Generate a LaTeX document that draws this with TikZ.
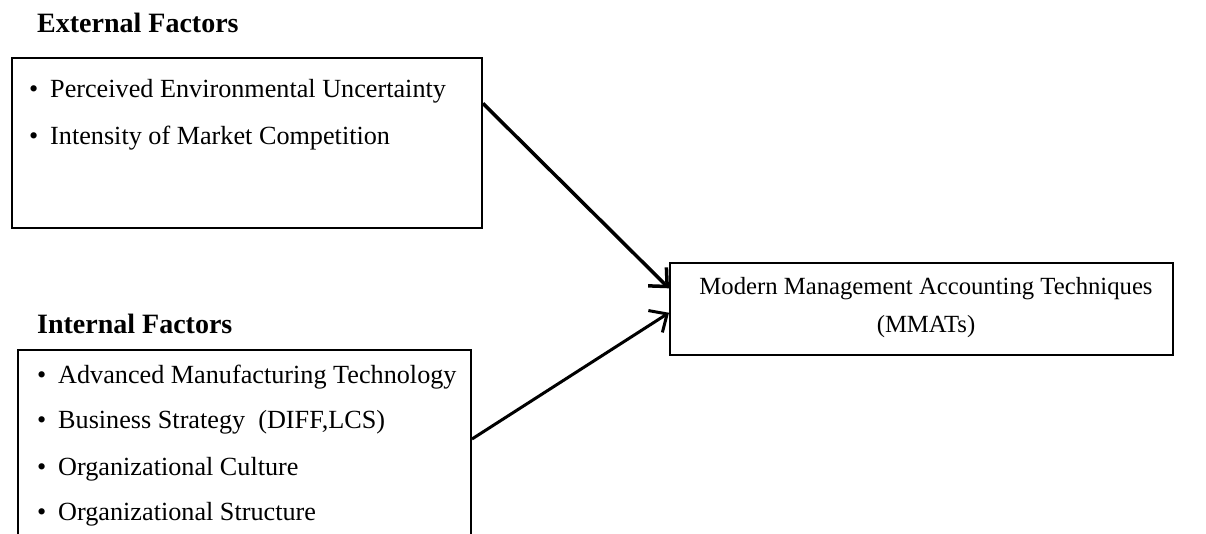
\documentclass[tikz,border=0pt]{standalone}
\usepackage{fontspec}
\setmainfont{Liberation Serif}
\usetikzlibrary{arrows.meta,calc}
\begin{document}
\begin{tikzpicture}[x=1pt,y=-1pt,
  box/.style={draw, line width=2pt, inner sep=0pt},
  item/.style={anchor=base west, inner sep=0pt, font=\fontsize{26.2}{30}\selectfont},
  title/.style={anchor=base west, inner sep=0pt, font=\fontsize{28}{32}\selectfont\bfseries},
  conn/.style={line width=3.5pt, -{Straight Barb[length=14pt,width=26pt]}}]
\useasboundingbox (0,0) rectangle (1206,534);
\clip (0,0) rectangle (1206,534);
\fill[white] (0,0) rectangle (1206,534);
% titles
\node[title] (ttlext) at (37,33) {External Factors};
\node[title] (ttlint) at (37,333) {Internal Factors};
% boxes
\node[box, minimum width=470pt, minimum height=170pt, anchor=north west] (ext) at (11,57) {};
\node[box, minimum width=453pt, minimum height=230pt, anchor=north west] (int) at (17,349) {};
\node[box, minimum width=503pt, minimum height=92pt, anchor=north west] (mmat) at (669,262) {};
\node[inner sep=0pt, anchor=base, font=\fontsize{24.7}{38}\selectfont, align=center] (mmattxt) at (926,332) {Modern Management Accounting Techniques\\(MMATs)};
% items
\node[item] (e1) at (29,98) {\makebox[21pt][l]{\textbullet}Perceived Environmental Uncertainty};
\node[item] (e2) at (29,145) {\makebox[21pt][l]{\textbullet}Intensity of Market Competition};
\node[item] (i1) at (37,383) {\makebox[21pt][l]{\textbullet}Advanced Manufacturing Technology};
\node[item] (i2) at (37,428) {\makebox[21pt][l]{\textbullet}Business Strategy\ \ (DIFF,LCS)};
\node[item] (i3) at (37,475) {\makebox[21pt][l]{\textbullet}Organizational Culture};
\node[item] (i4) at (37,520) {\makebox[21pt][l]{\textbullet}Organizational Structure};
% connectors
\draw[conn] ($(ext.north east)!0.27!(ext.south east)$) -- ($(mmat.north west)!0.28!(mmat.south west)$);
\draw[conn, line width=3pt] ($(int.north east)+(0,90)$) -- ($(mmat.north west)!0.54!(mmat.south west)$);
\end{tikzpicture}
\end{document}
